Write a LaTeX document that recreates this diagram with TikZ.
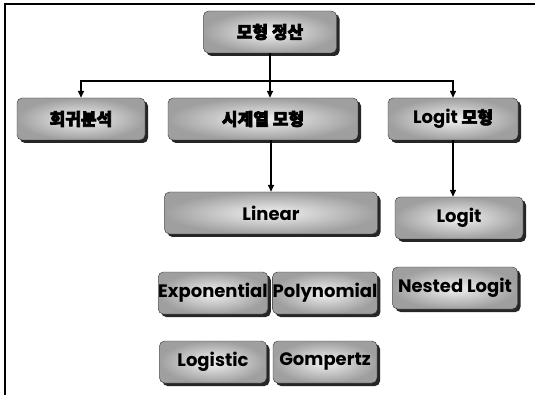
\documentclass[tikz,border=0pt]{standalone}
\usepackage{fontspec}
\setmainfont{Poppins}
\newfontfamily\kofont{Noto Sans CJK KR}
\newcommand\kotext[1]{{\fontsize{17}{19}\selectfont\kofont
    \special{pdf:literal direct 2 Tr 0.7 w}#1\special{pdf:literal direct 0 Tr}}}
\usetikzlibrary{arrows.meta,shadows}

\begin{document}
\begin{tikzpicture}[x=1pt, y=-1pt,
    every node/.style={rectangle, rounded corners=5pt, draw=black!80, thin,
        text centered, inner sep=0pt, minimum height=42pt,
        font=\fontsize{18}{20}\selectfont\bfseries,
        shading=radial, inner color=gray!10, outer color=gray!75,
        drop shadow={shadow xshift=3pt, shadow yshift=-3pt, fill=black!85, opacity=1}},
    arr/.style={-{Triangle[length=7pt, width=6pt]}, line width=1.4pt},
]
\useasboundingbox (0,0) rectangle (535,395);

% frame
\draw[line width=1.3pt] (5,395) -- (5,4) -- (535,4);

% Row 1: root
\node[minimum width=133pt] (root) at (270, 32) {\kotext{모형 정산}};

% Row 2: model families
\node[minimum width=128pt] (regr)    at ( 81, 119) {\kotext{회귀분석}};
\node[minimum width=190pt] (tseries) at (263, 119) {\kotext{시계열 모형}};
\node[minimum width=130pt] (logitm)  at (453, 119) {Logit \kotext{모형}};

% Row 3: time series forms
\node[minimum width=213pt] (linear) at (271, 213) {Linear};
\node[minimum width=107pt] (expo)   at (213, 293) {Exponential};
\node[minimum width=104pt] (poly)   at (325, 293) {Polynomial};
\node[minimum width=107pt] (logist) at (213, 362) {Logistic};
\node[minimum width=104pt] (gomp)   at (325, 362) {Gompertz};

% Row 3: logit forms
\node[minimum width=128pt] (logit)  at (459, 218) {Logit};
\node[minimum width=125pt] (nested) at (455, 288) {Nested Logit};

% Arrows
\draw[arr] (root.south) -- ++(0,28) -| (regr.north);
\draw[arr] (root.south) -- ++(0,28) -| (tseries.north -| root.south);
\draw[arr] (root.south) -- ++(0,28) -| (logitm.north);
\draw[arr] (linear.north |- tseries.south) -- (linear.north);
\draw[arr] (logitm.south) -- (logitm.south |- logit.north);

\end{tikzpicture}
\end{document}
